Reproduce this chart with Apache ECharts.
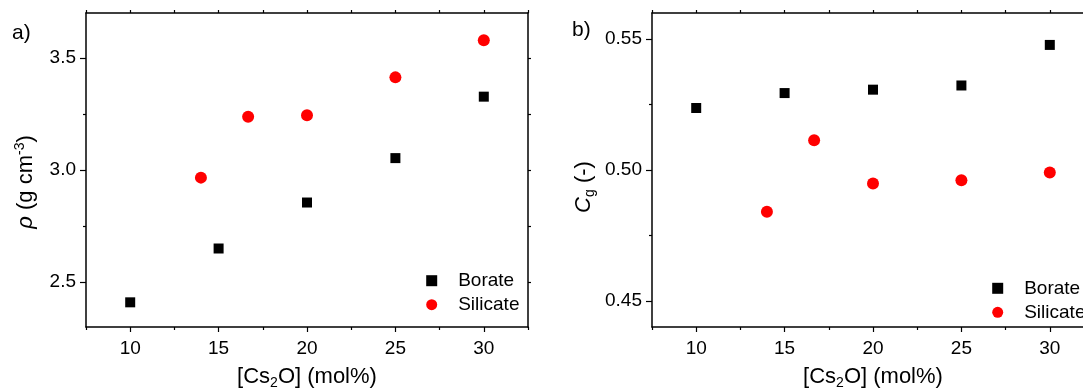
<!DOCTYPE html>
<html>
<head>
<meta charset="utf-8">
<script src="https://cdn.jsdelivr.net/npm/echarts@6/dist/echarts.min.js"></script>
<style>
html,body{margin:0;padding:0;background:#fff;}
#chart{width:1083px;height:390px;}
</style>
</head>
<body>
<div id="chart"></div>
<script>
// ---- data ----
const boratePct = [10, 15, 20, 25, 30];
const silicatePct = [14, 16.67, 20, 25, 30];
const rhoBorate = [2.41, 2.65, 2.855, 3.053, 3.327];
const rhoSilicate = [2.966, 3.237, 3.244, 3.413, 3.578];
const cgBorate = [0.5237, 0.5294, 0.5307, 0.5323, 0.5478];
const cgSilicate = [0.4840, 0.5114, 0.4948, 0.4961, 0.4990];
const seriesNames = ['Borate', 'Silicate'];
// ---- axes ----
const xRange = [7.5, 32.5];
const xMajor = [10, 15, 20, 25, 30];
const xMinor = [7.5, 12.5, 17.5, 22.5, 27.5, 32.5];
const rhoRange = [2.3, 3.7];
const rhoMajor = [2.5, 3.0, 3.5];
const rhoMinor = [2.75, 3.25];
const cgRange = [0.44, 0.56];
const cgMajor = [0.45, 0.50, 0.55];
const cgMinor = [0.475, 0.525];
const panelLabels = ['a)', 'b)'];

const FONT = 'Liberation Sans, Arial, sans-serif';
const BLACK = '#000';
const pairs = (xs, ys) => xs.map((x, i) => [x, ys[i]]);
const allTicks = (a, b) => a.concat(b).sort((p, q) => p - q);

const lineStyle = { color: BLACK, width: 1.5 };
const tickStyle = { color: BLACK, width: 1.2 };
const TICK_FS = 19;
const NAME_FS = 22;

const gridBase = { top: 13, width: 442, height: 314, containLabel: false, outerBoundsMode: 'none' };
const grids = [
  Object.assign({ left: 86 }, gridBase),
  Object.assign({ left: 86 }, gridBase),
  Object.assign({ left: 652 }, gridBase),
  Object.assign({ left: 652 }, gridBase)
];

const richStyles = {
  n: { fontSize: NAME_FS, fontFamily: FONT, color: BLACK, lineHeight: 26 },
  it: { fontSize: NAME_FS, fontFamily: FONT, color: BLACK, lineHeight: 26, fontStyle: 'italic' },
  sup: { fontSize: 14, fontFamily: FONT, color: BLACK, lineHeight: 14, verticalAlign: 'top' },
  sub: { fontSize: 14, fontFamily: FONT, color: BLACK, lineHeight: 14, verticalAlign: 'bottom' }
};

function xAxes(g, nameRich) {
  return [
    { gridIndex: g, type: 'value', position: 'bottom', min: xRange[0], max: xRange[1],
      axisLine: { show: true, lineStyle }, splitLine: { show: false },
      axisTick: { show: true, length: 5, lineStyle: tickStyle, customValues: xMajor },
      axisLabel: { show: true, customValues: xMajor, margin: 12, fontSize: TICK_FS, fontFamily: FONT, color: BLACK },
      name: nameRich, nameLocation: 'middle', nameGap: 37,
      nameTextStyle: { fontSize: NAME_FS, fontFamily: FONT, color: BLACK, lineHeight: 26, rich: richStyles } },
    { gridIndex: g, type: 'value', position: 'top', min: xRange[0], max: xRange[1],
      axisLine: { show: true, lineStyle }, splitLine: { show: false },
      axisTick: { show: true, length: 3, lineStyle: tickStyle, customValues: allTicks(xMajor, xMinor) },
      axisLabel: { show: false } },
    { gridIndex: g + 1, type: 'value', position: 'bottom', min: xRange[0], max: xRange[1],
      axisLine: { show: false }, splitLine: { show: false },
      axisTick: { show: true, length: 3, lineStyle: tickStyle, customValues: xMinor },
      axisLabel: { show: false } }
  ];
}

function yAxes(g, range, major, minor, digits, nameRich, gap, pad) {
  return [
    { gridIndex: g, type: 'value', position: 'left', min: range[0], max: range[1],
      axisLine: { show: true, lineStyle }, splitLine: { show: false },
      axisTick: { show: true, length: 6, lineStyle: tickStyle, customValues: major },
      axisLabel: { show: true, customValues: major, margin: 10, fontSize: TICK_FS, fontFamily: FONT, color: BLACK,
        formatter: v => Number(v).toFixed(digits) },
      name: nameRich, nameLocation: 'middle', nameGap: gap,
      nameTextStyle: { fontSize: NAME_FS, fontFamily: FONT, color: BLACK, lineHeight: 26, padding: pad, rich: richStyles } },
    { gridIndex: g, type: 'value', position: 'right', min: range[0], max: range[1],
      axisLine: { show: true, lineStyle }, splitLine: { show: false },
      axisTick: { show: true, length: 3, lineStyle: tickStyle, customValues: allTicks(major, minor) },
      axisLabel: { show: false } },
    { gridIndex: g + 1, type: 'value', position: 'left', min: range[0], max: range[1],
      axisLine: { show: false }, splitLine: { show: false },
      axisTick: { show: true, length: 3, lineStyle: tickStyle, customValues: minor },
      axisLabel: { show: false } }
  ];
}

const xName = '{n|[Cs}{sub|2}{n|O] (mol%)}';
const rhoName = '{it|ρ}{n| (g cm}{sup|-3}{n|)}';
const cgName = '{it|C}{sub|g}{n| (-)}';

function scatter(name, xi, yi, xs, ys) {
  const isB = name === seriesNames[0];
  return { name, type: 'scatter', xAxisIndex: xi, yAxisIndex: yi, data: pairs(xs, ys),
    symbol: isB ? 'rect' : 'circle', symbolSize: isB ? 10 : 12,
    itemStyle: { color: isB ? '#000000' : '#ff0000', opacity: 1 }, z: 5 };
}

function legendAt(left, top) {
  return { left, top, orient: 'vertical', padding: 0, itemWidth: 11, itemHeight: 11, itemGap: 4,
    data: seriesNames, selectedMode: false,
    textStyle: { fontSize: 19, fontFamily: FONT, color: BLACK, lineHeight: 20, padding: [0, 0, 0, 16] } };
}

const option = {
  backgroundColor: '#fff',
  animation: false,
  grid: grids,
  xAxis: xAxes(0, xName).concat(xAxes(2, xName)),
  yAxis: yAxes(0, rhoRange, rhoMajor, rhoMinor, 1, rhoName, 47, [0, 24, 0, 0])
    .concat(yAxes(2, cgRange, cgMajor, cgMinor, 2, cgName, 55, [0, 34, 0, 0])),
  legend: [legendAt(426.2, 270.7), legendAt(992.2, 278.3)],
  series: [
    scatter(seriesNames[0], 0, 0, boratePct, rhoBorate),
    scatter(seriesNames[1], 0, 0, silicatePct, rhoSilicate),
    scatter(seriesNames[0], 3, 3, boratePct, cgBorate),
    scatter(seriesNames[1], 3, 3, silicatePct, cgSilicate)
  ],
  graphic: [
    { type: 'text', left: 12, top: 23, style: { text: panelLabels[0], font: '21px ' + FONT, fill: BLACK } },
    { type: 'text', left: 572, top: 20, style: { text: panelLabels[1], font: '21px ' + FONT, fill: BLACK } }
  ]
};

const chart = echarts.init(document.getElementById('chart'), null, { renderer: 'canvas' });
chart.setOption(option);
</script>
</body>
</html>
